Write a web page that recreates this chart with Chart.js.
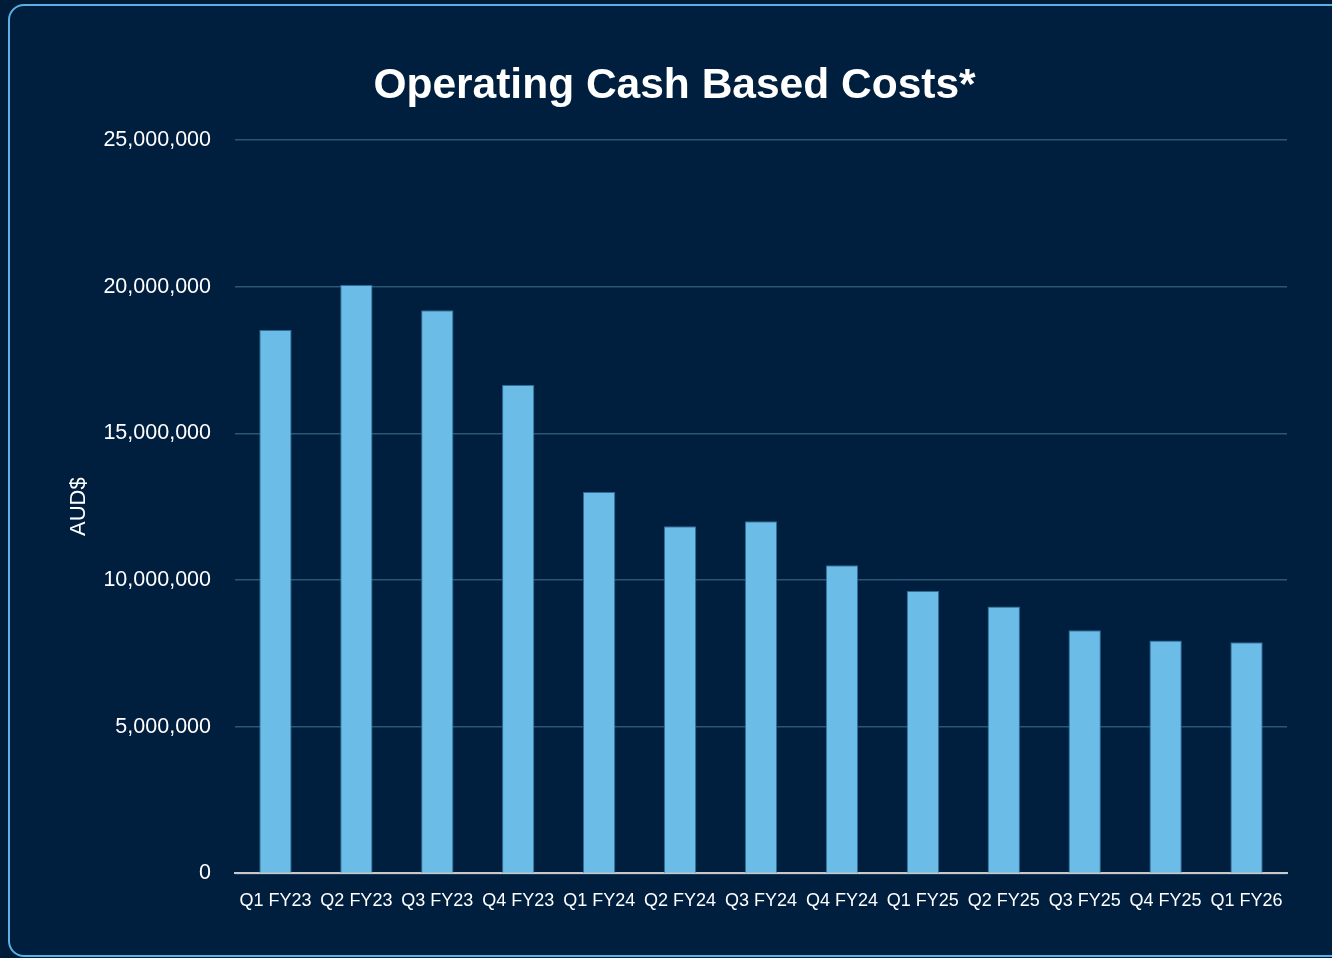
<!DOCTYPE html>
<html>
<head>
<meta charset="utf-8">
<script src="https://cdn.jsdelivr.net/npm/chart.js@4/dist/chart.umd.min.js"></script>
<style>
  html, body { margin: 0; padding: 0; background: #011c38; width: 1332px; height: 958px; overflow: hidden; }
  #card { position: absolute; left: 8px; top: 4px; width: 1360px; height: 953px; box-sizing: border-box;
          border: 2px solid #5cb0e4; border-radius: 16px; background: #001e3d; }
  #wrap { position: absolute; left: 0; top: 0; width: 1332px; height: 958px; }
</style>
</head>
<body>
<div id="card"></div>
<div id="wrap"><canvas id="c" width="1332" height="958"></canvas></div>
<script>
const categories = ["Q1 FY23","Q2 FY23","Q3 FY23","Q4 FY23","Q1 FY24","Q2 FY24","Q3 FY24","Q4 FY24","Q1 FY25","Q2 FY25","Q3 FY25","Q4 FY25","Q1 FY26"];
const costs = [18520000, 20060000, 19200000, 16650000, 13000000, 11830000, 12000000, 10500000, 9630000, 9100000, 8290000, 7940000, 7880000];
const yTicks = [0, 5000000, 10000000, 15000000, 20000000, 25000000];
const chartTitle = "Operating Cash Based Costs*";
const yAxisTitle = "AUD$";

new Chart(document.getElementById('c'), {
  type: 'bar',
  data: {
    labels: categories,
    datasets: [{
      data: costs,
      backgroundColor: '#6bbde8',
      borderColor: '#2b6d9b',
      borderWidth: 1,
      barPercentage: 1.0,
      categoryPercentage: 0.4
    }]
  },
  options: {
    responsive: false,
    animation: false,
    layout: { padding: { left: 62, right: 45, top: 57, bottom: 29 } },
    plugins: {
      legend: { display: false },
      tooltip: { enabled: false },
      title: {
        display: true,
        text: chartTitle,
        color: '#ffffff',
        font: { family: 'Liberation Sans', size: 42.5, weight: 'bold' },
        padding: { top: 4, bottom: 28 }
      }
    },
    scales: {
      x: {
        grid: { display: false, drawTicks: false },
        border: { display: true, color: '#c9c9c9', width: 2 },
        ticks: { color: '#ffffff', font: { family: 'Liberation Sans', size: 18 }, padding: 17, maxRotation: 0, autoSkip: false }
      },
      y: {
        min: 0,
        max: 25000000,
        afterBuildTicks: (axis) => { axis.ticks = yTicks.map(v => ({ value: v })); },
        afterFit: (scale) => { scale.width = 173; },
        grid: { color: '#2a5776', lineWidth: 1.5, drawTicks: false },
        border: { display: false },
        ticks: {
          color: '#ffffff',
          font: { family: 'Liberation Sans', size: 21.5 },
          padding: 24,
          callback: (v) => Number(v).toLocaleString('en-US')
        },
        title: {
          display: true,
          text: yAxisTitle,
          color: '#ffffff',
          font: { family: 'Liberation Sans', size: 22 },
          padding: { top: 4, bottom: 4 }
        }
      }
    }
  }
});
</script>
</body>
</html>
